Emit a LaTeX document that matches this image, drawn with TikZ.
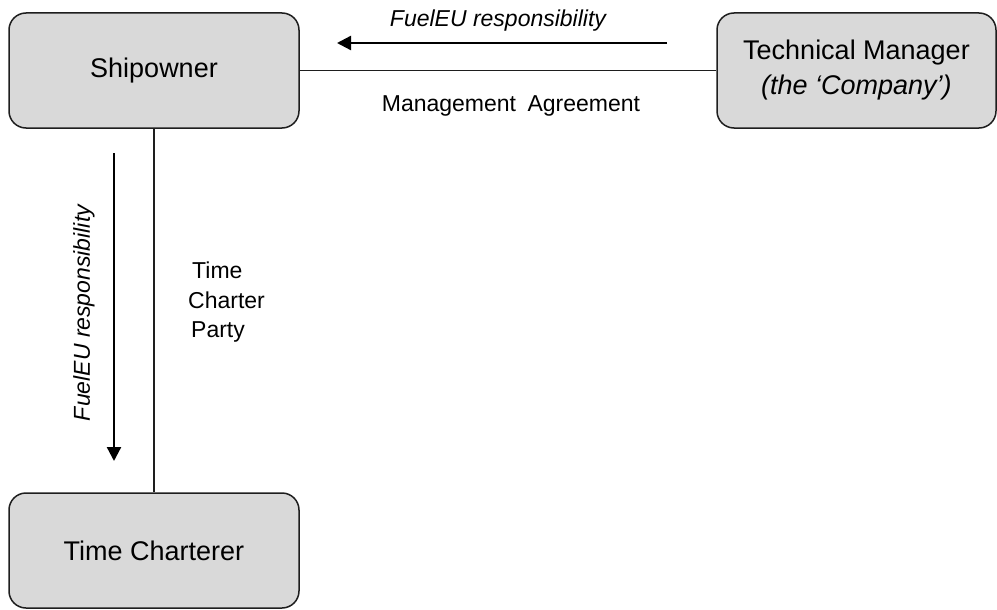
\documentclass[tikz,border=0pt]{standalone}
\usepackage{fontspec}
\setmainfont{Liberation Sans}
\usetikzlibrary{arrows.meta}
\definecolor{boxgray}{RGB}{217,217,217}
\definecolor{edgeink}{RGB}{30,30,30}
\begin{document}
\begin{tikzpicture}[x=1pt,y=-1pt,
  party/.style={draw=edgeink, line width=1.5pt, fill=boxgray,
    rounded corners=17pt, inner sep=0pt, align=center,
    font=\fontsize{27}{35}\selectfont},
  link/.style={draw=edgeink, line width=1.5pt},
  duty/.style={draw=black, line width=2.3pt,
    -{Triangle[length=14pt,width=14pt]}},
  lab/.style={inner sep=0pt, font=\fontsize{23}{28}\selectfont}]
\useasboundingbox (0,0) rectangle (997,610);

% parties
\node[party, minimum width=290pt, minimum height=115pt] (owner) at (154,70.5) {Shipowner};
\node[party, minimum width=279pt, minimum height=115pt] (manager) at (856.5,70.5)
  {Technical Manager\\\textit{(the ‘Company’)}};
\node[party, minimum width=290pt, minimum height=115pt] (charterer) at (154,550.5) {Time Charterer};

% contracts
\draw[link] (owner.east) -- (manager.west);
\draw[link] (owner.south) -- (charterer.north);

% responsibility arrows
\coordinate (h1) at (667,43);
\coordinate (h2) at (337,43);
\coordinate (v1) at (114,153);
\coordinate (v2) at (114,461);
\draw[duty] (h1) -- (h2);
\draw[duty] (v1) -- (v2);

% labels
\node[lab, font=\fontsize{23}{28}\selectfont\itshape] (hlab) at (498,21) {FuelEU responsibility};
\node[lab] (mgmt) at (511,106) {Management\hspace{0.5em}Agreement};
\node[lab, font=\fontsize{23}{28}\selectfont\itshape, rotate=90] (vlab) at (84,313) {FuelEU responsibility};
\node[lab, anchor=base west] (tcp1) at (192,278) {Time};
\node[lab, anchor=base west] (tcp2) at (188,308) {Charter};
\node[lab, anchor=base west] (tcp3) at (191,337) {Party};
\end{tikzpicture}
\end{document}
